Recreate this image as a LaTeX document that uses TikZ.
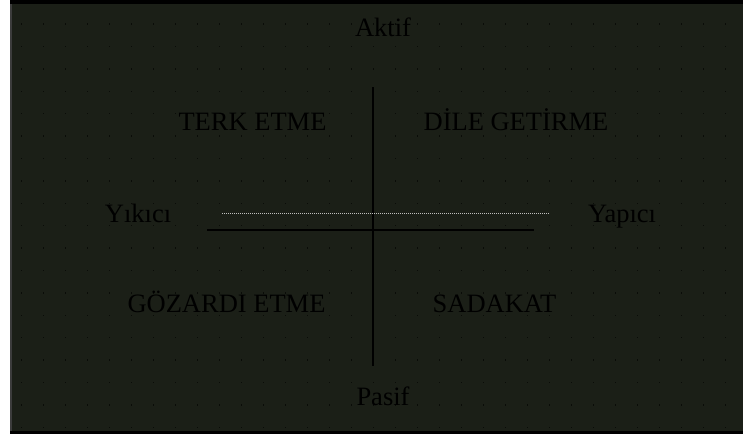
\documentclass[tikz,border=0pt]{standalone}
\usepackage{fontspec}
\setmainfont{Liberation Serif}
\definecolor{bgc}{RGB}{27,31,23}
\definecolor{dotc}{RGB}{10,12,8}
\definecolor{framel}{RGB}{60,60,60}
\begin{document}
\begin{tikzpicture}[x=1pt,y=-1pt,
  lbl/.style={anchor=base,inner sep=0pt,text=black,font=\fontsize{26.5}{30}\selectfont},
  axis/.style={draw=black,line width=1.6pt}]
\useasboundingbox (0,0) rectangle (743,434);
\fill[white] (0,0) rectangle (743,434);
\fill[bgc] (10,0) rectangle (743,434);
\foreach \i in {0,...,32}{
  \foreach \j in {0,...,18}{
    \fill[dotc] ({21+22*\i},{23.4+22.4*\j}) rectangle ++(1.3,1.3);
  }
}
\fill[framel] (10,0) rectangle (11.5,434);
\fill[black] (10,0) rectangle (743,3.5);
\fill[black] (10,431) rectangle (743,434);
% labels
\node[lbl] (aktif) at (383,36) {Aktif};
\node[lbl] (terk) at (252.5,130) {TERK ETME};
\node[lbl] (dile) at (516,130) {DİLE GETİRME};
\node[lbl] (yikici) at (138,222) {Yıkıcı};
\node[lbl] (yapici) at (622,222) {Yapıcı};
\node[lbl] (gozardi) at (226.5,312) {GÖZARDI ETME};
\node[lbl] (sadakat) at (494.5,312) {SADAKAT};
\node[lbl] (pasif) at (383,405) {Pasif};
% axes
\coordinate (vtop) at (372.7,87);
\coordinate (vbot) at (372.7,366);
\coordinate (hl) at (207,230);
\coordinate (hr) at (534,230);
\coordinate (gl) at (222,213.5);
\coordinate (gr) at (550,213.5);
\draw[axis] (vtop) -- (vbot);
\draw[axis] (hl) -- (hr);
\draw[draw=white!75!black,line width=1.2pt,dash pattern=on 1pt off 1pt] (gl) -- (gr);
\end{tikzpicture}
\end{document}
